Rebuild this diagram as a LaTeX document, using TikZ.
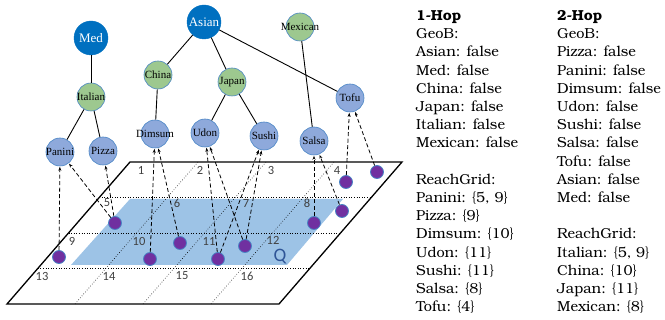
\documentclass[tikz,border=0pt]{standalone}
\usepackage{fontspec}
\setmainfont{TeX Gyre Bonum}
\newfontfamily\treefont{Liberation Serif}
\newfontfamily\numfont{Carlito}
\usetikzlibrary{calc,arrows.meta}
\definecolor{dkblue}{HTML}{0070C0}
\definecolor{nodegreen}{HTML}{9DC88F}
\definecolor{nodeblue}{HTML}{8EA9DB}
\definecolor{borderblue}{HTML}{4A86C5}
\definecolor{qblue}{HTML}{9DC3E6}
\definecolor{dotpurple}{HTML}{7030A0}
\definecolor{numgray}{HTML}{404040}
\definecolor{qtext}{HTML}{2F5597}
\newcommand\ovr[1]{\makebox[0pt][c]{#1}}
\tikzset{
  topnode/.style={circle,fill=dkblue,draw=dkblue,minimum size=34pt,inner sep=0pt,text=white,font=\treefont\fontsize{13}{13}\selectfont},
  midnode/.style={circle,fill=nodegreen,draw=borderblue,line width=0.6pt,minimum size=28pt,inner sep=0pt,font=\treefont\fontsize{11}{11}\selectfont},
  leafnode/.style={circle,fill=nodeblue,draw=borderblue,line width=0.6pt,minimum size=28pt,inner sep=0pt,font=\treefont\fontsize{11}{11}\selectfont},
  treeedge/.style={line width=0.9pt,black},
  link/.style={line width=0.8pt,dash pattern=on 4pt off 2.5pt,-{Stealth[length=4pt,width=3pt]},shorten >=0.5pt},
  dot/.style={circle,fill=dotpurple,draw=borderblue,line width=0.8pt,minimum size=13pt,inner sep=0pt},
  cellnum/.style={text=numgray,font=\numfont\fontsize{12.5}{12.5}\selectfont,inner sep=0pt},
  txt/.style={anchor=base west,inner sep=0pt,font=\fontsize{14.5}{14.5}\selectfont},
  hdr/.style={txt,font=\fontsize{14.5}{14.5}\selectfont\bfseries},
  gridline/.style={dotted,line width=0.6pt},
}
\begin{document}
\begin{tikzpicture}[x=1pt,y=-1pt]
\useasboundingbox (0,0) rectangle (665,320);
% plane
\coordinate (TL) at (130,162);
\coordinate (TR) at (402,162);
\coordinate (BL) at (7,304);
\coordinate (BR) at (279,304);
\fill[qblue] (130,199) -- (343,199) -- (287,265) -- (71,265) -- cycle;
\node[text=qtext,font=\numfont\fontsize{19}{19}\selectfont,inner sep=0pt] (Q) at (280,257) {Q};
\foreach \t in {0.25,0.5,0.75}{
  \draw[gridline] ($(TL)!\t!(BL)$) -- ($(TR)!\t!(BR)$);
  \draw[gridline] ($(TL)!\t!(TR)$) -- ($(BL)!\t!(BR)$);
}
\draw[line width=1.3pt] (TL) -- (TR) -- (BR) -- (BL) -- cycle;
% cell numbers
\node[cellnum] (n1) at (141,170) {1};
\node[cellnum] (n2) at (200,170) {2};
\node[cellnum] (n3) at (271,170) {3};
\node[cellnum] (n4) at (337,170) {4};
\node[cellnum] (n5) at (107,203) {5};
\node[cellnum] (n6) at (177,203) {6};
\node[cellnum] (n7) at (246,203) {7};
\node[cellnum] (n8) at (307,203) {8};
\node[cellnum] (n9) at (72,241) {9};
\node[cellnum] (n10) at (139,241) {10};
\node[cellnum] (n11) at (209,241) {11};
\node[cellnum] (n12) at (273,240) {12};
\node[cellnum] (n13) at (42,276) {13};
\node[cellnum] (n14) at (109,276) {14};
\node[cellnum] (n15) at (182,276) {15};
\node[cellnum] (n16) at (247,276) {16};
% tree
\node[topnode] (Med) at (91,38) {Med};
\node[topnode] (Asian) at (204,22) {Asian};
\node[midnode] (Mexican) at (300,27) {\ovr{Mexican}};
\node[midnode] (China) at (158,75) {\ovr{China}};
\node[midnode] (Japan) at (232,82) {\ovr{Japan}};
\node[midnode] (Italian) at (91,97) {\ovr{Italian}};
\node[leafnode] (Tofu) at (350,98) {\ovr{Tofu}};
\node[leafnode] (Dimsum) at (155,134) {\ovr{Dimsum}};
\node[leafnode] (Udon) at (205,133) {\ovr{Udon}};
\node[leafnode] (Sushi) at (264,136) {\ovr{Sushi}};
\node[leafnode] (Salsa) at (314,141) {\ovr{Salsa}};
\node[leafnode] (Panini) at (60,152) {\ovr{Panini}};
\node[leafnode] (Pizza) at (103,151) {\ovr{Pizza}};
\draw[treeedge] (Med) -- (Italian);
\draw[treeedge] (Italian) -- (Panini);
\draw[treeedge] (Italian) -- (Pizza);
\draw[treeedge] (Asian) -- (China);
\draw[treeedge] (Asian) -- (Japan);
\draw[treeedge] (Asian) -- (Tofu);
\draw[treeedge] (China) -- (Dimsum);
\draw[treeedge] (Japan) -- (Udon);
\draw[treeedge] (Japan) -- (Sushi);
\draw[treeedge] (Mexican) -- (Salsa);
% dots
\node[dot] (d1) at (59,257) {};
\node[dot] (d2) at (115,223) {};
\node[dot] (d3) at (150,259) {};
\node[dot] (d4) at (180,243) {};
\node[dot] (d5) at (218,259) {};
\node[dot] (d6) at (245,246) {};
\node[dot] (d7) at (314,223) {};
\node[dot] (d8) at (342,211) {};
\node[dot] (d9) at (346,182) {};
\node[dot] (d10) at (377,172) {};
% links
\draw[link] (d1) -- (Panini);
\draw[link] (d2) -- (Panini);
\draw[link] (d2) -- (Pizza);
\draw[link] (d3) -- (Dimsum);
\draw[link] (d4) -- (Dimsum);
\draw[link] (d5) -- (Udon);
\draw[link] (d6) -- (Udon);
\draw[link] (d5) -- (Sushi);
\draw[link] (d6) -- (Sushi);
\draw[link] (d7) -- (Salsa);
\draw[link] (d8) -- (Salsa);
\draw[link] (d9) -- (Tofu);
\draw[link] (d10) -- (Tofu);
% text column 1
\node[hdr] (a0) at (416,20.5) {1-Hop};
\node[txt] (a1) at (416,38.7) {GeoB:};
\node[txt] (a2) at (416,56.9) {Asian: false};
\node[txt] (a3) at (416,75.1) {Med: false};
\node[txt] (a4) at (416,93.3) {China: false};
\node[txt] (a5) at (416,111.5) {Japan: false};
\node[txt] (a6) at (416,129.7) {Italian: false};
\node[txt] (a7) at (416,147.9) {Mexican: false};
\node[txt] (a9) at (416,184.3) {ReachGrid:};
\node[txt] (a10) at (416,202.5) {Panini: \{5, 9\}};
\node[txt] (a11) at (416,220.7) {Pizza: \{9\}};
\node[txt] (a12) at (416,238.9) {Dimsum: \{10\}};
\node[txt] (a13) at (416,257.1) {Udon: \{11\}};
\node[txt] (a14) at (416,275.3) {Sushi: \{11\}};
\node[txt] (a15) at (416,293.5) {Salsa: \{8\}};
\node[txt] (a16) at (416,311.7) {Tofu: \{4\}};
% text column 2
\node[hdr] (b0) at (557,20.5) {2-Hop};
\node[txt] (b1) at (557,38.7) {GeoB:};
\node[txt] (b2) at (557,56.9) {Pizza: false};
\node[txt] (b3) at (557,75.1) {Panini: false};
\node[txt] (b4) at (557,93.3) {Dimsum: false};
\node[txt] (b5) at (557,111.5) {Udon: false};
\node[txt] (b6) at (557,129.7) {Sushi: false};
\node[txt] (b7) at (557,147.9) {Salsa: false};
\node[txt] (b8) at (557,166.1) {Tofu: false};
\node[txt] (b9) at (557,184.3) {Asian: false};
\node[txt] (b10) at (557,202.5) {Med: false};
\node[txt] (b12) at (557,238.9) {ReachGrid:};
\node[txt] (b13) at (557,257.1) {Italian: \{5, 9\}};
\node[txt] (b14) at (557,275.3) {China: \{10\}};
\node[txt] (b15) at (557,293.5) {Japan: \{11\}};
\node[txt] (b16) at (557,311.7) {Mexican: \{8\}};
\end{tikzpicture}
\end{document}
